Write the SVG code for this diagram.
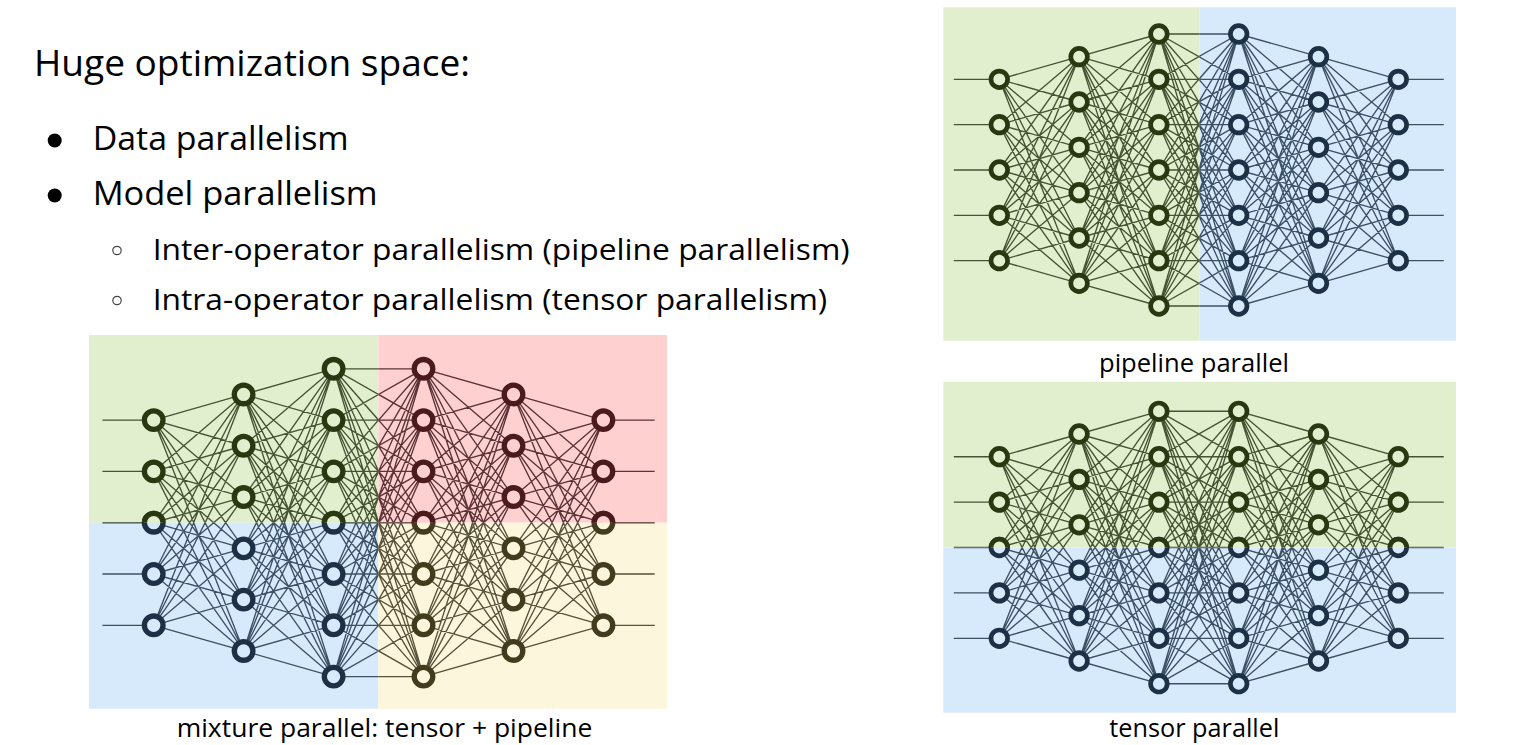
<svg xmlns="http://www.w3.org/2000/svg" xmlns:xlink="http://www.w3.org/1999/xlink" width="1525" height="745" viewBox="0 0 1525 745">
<style>
text{font-family:"Open Sans","Liberation Sans",sans-serif;fill:#000}
.t1{font-size:36px}
.t2{font-size:33px}
.t3{font-size:30px}
.lb{font-size:26px}
.s{stroke-width:4.7}
.m{stroke-width:5.3}
.ng{fill:#e2efcf;stroke:#2a3812}
.nb{fill:#d7eafb;stroke:#1c3145}
.nr{fill:#ffd0d0;stroke:#4b1a1d}
.ny{fill:#fcf6dc;stroke:#423b1d}
.cg{stroke:#3a4627}
.cb{stroke:#2f4457}
.cr{stroke:#4d2629}
.cy{stroke:#4a442e}
</style>
<defs>
<path id="net" fill="none" stroke-width="1.35" stroke-opacity="0.92" vector-effect="non-scaling-stroke" d="M0 -4L10 -5M0 -4L10 -3M0 -4L10 -1M0 -4L10 1M0 -4L10 3M0 -4L10 5M0 -2L10 -5M0 -2L10 -3M0 -2L10 -1M0 -2L10 1M0 -2L10 3M0 -2L10 5M0 0L10 -5M0 0L10 -3M0 0L10 -1M0 0L10 1M0 0L10 3M0 0L10 5M0 2L10 -5M0 2L10 -3M0 2L10 -1M0 2L10 1M0 2L10 3M0 2L10 5M0 4L10 -5M0 4L10 -3M0 4L10 -1M0 4L10 1M0 4L10 3M0 4L10 5
M10 -5L20 -6M10 -5L20 -4M10 -5L20 -2M10 -5L20 0M10 -5L20 2M10 -5L20 4M10 -5L20 6M10 -3L20 -6M10 -3L20 -4M10 -3L20 -2M10 -3L20 0M10 -3L20 2M10 -3L20 4M10 -3L20 6M10 -1L20 -6M10 -1L20 -4M10 -1L20 -2M10 -1L20 0M10 -1L20 2M10 -1L20 4M10 -1L20 6M10 1L20 -6M10 1L20 -4M10 1L20 -2M10 1L20 0M10 1L20 2M10 1L20 4M10 1L20 6M10 3L20 -6M10 3L20 -4M10 3L20 -2M10 3L20 0M10 3L20 2M10 3L20 4M10 3L20 6M10 5L20 -6M10 5L20 -4M10 5L20 -2M10 5L20 0M10 5L20 2M10 5L20 4M10 5L20 6
M20 -6L30 -6M20 -6L30 -4M20 -6L30 -2M20 -6L30 0M20 -6L30 2M20 -6L30 4M20 -6L30 6M20 -4L30 -6M20 -4L30 -4M20 -4L30 -2M20 -4L30 0M20 -4L30 2M20 -4L30 4M20 -4L30 6M20 -2L30 -6M20 -2L30 -4M20 -2L30 -2M20 -2L30 0M20 -2L30 2M20 -2L30 4M20 -2L30 6M20 0L30 -6M20 0L30 -4M20 0L30 -2M20 0L30 0M20 0L30 2M20 0L30 4M20 0L30 6M20 2L30 -6M20 2L30 -4M20 2L30 -2M20 2L30 0M20 2L30 2M20 2L30 4M20 2L30 6M20 4L30 -6M20 4L30 -4M20 4L30 -2M20 4L30 0M20 4L30 2M20 4L30 4M20 4L30 6M20 6L30 -6M20 6L30 -4M20 6L30 -2M20 6L30 0M20 6L30 2M20 6L30 4M20 6L30 6
M30 -6L40 -5M30 -6L40 -3M30 -6L40 -1M30 -6L40 1M30 -6L40 3M30 -6L40 5M30 -4L40 -5M30 -4L40 -3M30 -4L40 -1M30 -4L40 1M30 -4L40 3M30 -4L40 5M30 -2L40 -5M30 -2L40 -3M30 -2L40 -1M30 -2L40 1M30 -2L40 3M30 -2L40 5M30 0L40 -5M30 0L40 -3M30 0L40 -1M30 0L40 1M30 0L40 3M30 0L40 5M30 2L40 -5M30 2L40 -3M30 2L40 -1M30 2L40 1M30 2L40 3M30 2L40 5M30 4L40 -5M30 4L40 -3M30 4L40 -1M30 4L40 1M30 4L40 3M30 4L40 5M30 6L40 -5M30 6L40 -3M30 6L40 -1M30 6L40 1M30 6L40 3M30 6L40 5
M40 -5L50 -4M40 -5L50 -2M40 -5L50 0M40 -5L50 2M40 -5L50 4M40 -3L50 -4M40 -3L50 -2M40 -3L50 0M40 -3L50 2M40 -3L50 4M40 -1L50 -4M40 -1L50 -2M40 -1L50 0M40 -1L50 2M40 -1L50 4M40 1L50 -4M40 1L50 -2M40 1L50 0M40 1L50 2M40 1L50 4M40 3L50 -4M40 3L50 -2M40 3L50 0M40 3L50 2M40 3L50 4M40 5L50 -4M40 5L50 -2M40 5L50 0M40 5L50 2M40 5L50 4
M-5.7 -4L0 -4M-5.7 -2L0 -2M-5.7 0L0 0M-5.7 2L0 2M-5.7 4L0 4M50 -4L55.7 -4M50 -2L55.7 -2M50 0L55.7 0M50 2L55.7 2M50 4L55.7 4"/>
<clipPath id="cPG"><rect x="900" y="0" width="299.3" height="360"/></clipPath>
<clipPath id="cPB"><rect x="1199.3" y="0" width="326" height="360"/></clipPath>
<clipPath id="cTG"><rect x="900" y="370" width="625" height="177.5"/></clipPath>
<clipPath id="cTB"><rect x="900" y="547.5" width="625" height="200"/></clipPath>
<clipPath id="cMG"><rect x="0" y="320" width="378.3" height="202.7"/></clipPath>
<clipPath id="cMR"><rect x="378.3" y="320" width="400" height="202.7"/></clipPath>
<clipPath id="cMB"><rect x="0" y="522.7" width="378.3" height="222.3"/></clipPath>
<clipPath id="cMY"><rect x="378.3" y="522.7" width="400" height="222.3"/></clipPath>
</defs>

<g id="text-block">
<text class="t1" x="34" y="76" textLength="436" lengthAdjust="spacingAndGlyphs">Huge optimization space:</text>
<circle cx="54.7" cy="140.5" r="7" fill="#000"/>
<text class="t2" x="92.7" y="150" textLength="256" lengthAdjust="spacingAndGlyphs">Data parallelism</text>
<circle cx="54.7" cy="195.5" r="7" fill="#000"/>
<text class="t2" x="92.7" y="205" textLength="285" lengthAdjust="spacingAndGlyphs">Model parallelism</text>
<circle cx="117" cy="250.5" r="4.2" fill="none" stroke="#444" stroke-width="1.2"/>
<text class="t3" x="152.7" y="259.5" textLength="697" lengthAdjust="spacingAndGlyphs">Inter-operator parallelism (pipeline parallelism)</text>
<circle cx="117" cy="300.5" r="4.2" fill="none" stroke="#444" stroke-width="1.2"/>
<text class="t3" x="152.7" y="309.5" textLength="674.5" lengthAdjust="spacingAndGlyphs">Intra-operator parallelism (tensor parallelism)</text>
</g>

<g id="backgrounds">
<rect x="943.3" y="7.3" width="256" height="333.4" fill="#e2efcf"/>
<rect x="1199.3" y="7.3" width="256.7" height="333.4" fill="#d7eafb"/>
<rect x="943.3" y="381.7" width="512.7" height="165.8" fill="#e2efcf"/>
<rect x="943.3" y="547.5" width="512.7" height="165.2" fill="#d7eafb"/>
<rect x="89" y="335" width="289.3" height="187.7" fill="#e2efcf"/>
<rect x="378.3" y="335" width="288.7" height="187.7" fill="#ffd0d0"/>
<rect x="89" y="522.7" width="289.3" height="186" fill="#d7eafb"/>
<rect x="378.3" y="522.7" width="288.7" height="186" fill="#fcf6dc"/>
</g>

<g id="connectors">
<g id="p-connectors">
<g clip-path="url(#cPG)" class="cg"><use href="#net" xlink:href="#net" transform="translate(999.3 170) scale(7.98 22.667)"/></g>
<g clip-path="url(#cPB)" class="cb"><use href="#net" xlink:href="#net" transform="translate(999.3 170) scale(7.98 22.667)"/></g>
</g>
<g id="t-connectors">
<g clip-path="url(#cTG)" class="cg"><use href="#net" xlink:href="#net" transform="translate(999.3 547.5) scale(7.98 22.7)"/></g>
<g clip-path="url(#cTB)" class="cb"><use href="#net" xlink:href="#net" transform="translate(999.3 547.5) scale(7.98 22.7)"/></g>
</g>
<g id="m-connectors">
<g clip-path="url(#cMG)" class="cg"><use href="#net" xlink:href="#net" transform="translate(153.7 522.7) scale(8.994 25.65)"/></g>
<g clip-path="url(#cMR)" class="cr"><use href="#net" xlink:href="#net" transform="translate(153.7 522.7) scale(8.994 25.65)"/></g>
<g clip-path="url(#cMB)" class="cb"><use href="#net" xlink:href="#net" transform="translate(153.7 522.7) scale(8.994 25.65)"/></g>
<g clip-path="url(#cMY)" class="cy"><use href="#net" xlink:href="#net" transform="translate(153.7 522.7) scale(8.994 25.65)"/></g>
</g>
</g>

<g id="pipeline-nodes">
<g id="p0-0"><circle class="ng s" cx="999.3" cy="79.33" r="8.3"/></g>
<g id="p0-1"><circle class="ng s" cx="999.3" cy="124.67" r="8.3"/></g>
<g id="p0-2"><circle class="ng s" cx="999.3" cy="170" r="8.3"/></g>
<g id="p0-3"><circle class="ng s" cx="999.3" cy="215.33" r="8.3"/></g>
<g id="p0-4"><circle class="ng s" cx="999.3" cy="260.67" r="8.3"/></g>
<g id="p1-0"><circle class="ng s" cx="1079.1" cy="56.67" r="8.3"/></g>
<g id="p1-1"><circle class="ng s" cx="1079.1" cy="102" r="8.3"/></g>
<g id="p1-2"><circle class="ng s" cx="1079.1" cy="147.33" r="8.3"/></g>
<g id="p1-3"><circle class="ng s" cx="1079.1" cy="192.67" r="8.3"/></g>
<g id="p1-4"><circle class="ng s" cx="1079.1" cy="238" r="8.3"/></g>
<g id="p1-5"><circle class="ng s" cx="1079.1" cy="283.33" r="8.3"/></g>
<g id="p2-0"><circle class="ng s" cx="1158.9" cy="34" r="8.3"/></g>
<g id="p2-1"><circle class="ng s" cx="1158.9" cy="79.33" r="8.3"/></g>
<g id="p2-2"><circle class="ng s" cx="1158.9" cy="124.67" r="8.3"/></g>
<g id="p2-3"><circle class="ng s" cx="1158.9" cy="170" r="8.3"/></g>
<g id="p2-4"><circle class="ng s" cx="1158.9" cy="215.33" r="8.3"/></g>
<g id="p2-5"><circle class="ng s" cx="1158.9" cy="260.67" r="8.3"/></g>
<g id="p2-6"><circle class="ng s" cx="1158.9" cy="306" r="8.3"/></g>
<g id="p3-0"><circle class="nb s" cx="1238.7" cy="34" r="8.3"/></g>
<g id="p3-1"><circle class="nb s" cx="1238.7" cy="79.33" r="8.3"/></g>
<g id="p3-2"><circle class="nb s" cx="1238.7" cy="124.67" r="8.3"/></g>
<g id="p3-3"><circle class="nb s" cx="1238.7" cy="170" r="8.3"/></g>
<g id="p3-4"><circle class="nb s" cx="1238.7" cy="215.33" r="8.3"/></g>
<g id="p3-5"><circle class="nb s" cx="1238.7" cy="260.67" r="8.3"/></g>
<g id="p3-6"><circle class="nb s" cx="1238.7" cy="306" r="8.3"/></g>
<g id="p4-0"><circle class="nb s" cx="1318.5" cy="56.67" r="8.3"/></g>
<g id="p4-1"><circle class="nb s" cx="1318.5" cy="102" r="8.3"/></g>
<g id="p4-2"><circle class="nb s" cx="1318.5" cy="147.33" r="8.3"/></g>
<g id="p4-3"><circle class="nb s" cx="1318.5" cy="192.67" r="8.3"/></g>
<g id="p4-4"><circle class="nb s" cx="1318.5" cy="238" r="8.3"/></g>
<g id="p4-5"><circle class="nb s" cx="1318.5" cy="283.33" r="8.3"/></g>
<g id="p5-0"><circle class="nb s" cx="1398.3" cy="79.33" r="8.3"/></g>
<g id="p5-1"><circle class="nb s" cx="1398.3" cy="124.67" r="8.3"/></g>
<g id="p5-2"><circle class="nb s" cx="1398.3" cy="170" r="8.3"/></g>
<g id="p5-3"><circle class="nb s" cx="1398.3" cy="215.33" r="8.3"/></g>
<g id="p5-4"><circle class="nb s" cx="1398.3" cy="260.67" r="8.3"/></g>
</g>

<g id="tensor-nodes">
<g id="t0-0"><circle class="ng s" cx="999.3" cy="456.7" r="8.3"/></g>
<g id="t0-1"><circle class="ng s" cx="999.3" cy="502.1" r="8.3"/></g>
<g id="t0-2"><circle class="nb s" cx="999.3" cy="547.5" r="8.3"/><circle class="ng s" cx="999.3" cy="547.5" r="8.3" clip-path="url(#cTG)"/></g>
<g id="t0-3"><circle class="nb s" cx="999.3" cy="592.9" r="8.3"/></g>
<g id="t0-4"><circle class="nb s" cx="999.3" cy="638.3" r="8.3"/></g>
<g id="t1-0"><circle class="ng s" cx="1079.1" cy="434" r="8.3"/></g>
<g id="t1-1"><circle class="ng s" cx="1079.1" cy="479.4" r="8.3"/></g>
<g id="t1-2"><circle class="ng s" cx="1079.1" cy="524.8" r="8.3"/></g>
<g id="t1-3"><circle class="nb s" cx="1079.1" cy="570.2" r="8.3"/></g>
<g id="t1-4"><circle class="nb s" cx="1079.1" cy="615.6" r="8.3"/></g>
<g id="t1-5"><circle class="nb s" cx="1079.1" cy="661" r="8.3"/></g>
<g id="t2-0"><circle class="ng s" cx="1158.9" cy="411.3" r="8.3"/></g>
<g id="t2-1"><circle class="ng s" cx="1158.9" cy="456.7" r="8.3"/></g>
<g id="t2-2"><circle class="ng s" cx="1158.9" cy="502.1" r="8.3"/></g>
<g id="t2-3"><circle class="nb s" cx="1158.9" cy="547.5" r="8.3"/><circle class="ng s" cx="1158.9" cy="547.5" r="8.3" clip-path="url(#cTG)"/></g>
<g id="t2-4"><circle class="nb s" cx="1158.9" cy="592.9" r="8.3"/></g>
<g id="t2-5"><circle class="nb s" cx="1158.9" cy="638.3" r="8.3"/></g>
<g id="t2-6"><circle class="nb s" cx="1158.9" cy="683.7" r="8.3"/></g>
<g id="t3-0"><circle class="ng s" cx="1238.7" cy="411.3" r="8.3"/></g>
<g id="t3-1"><circle class="ng s" cx="1238.7" cy="456.7" r="8.3"/></g>
<g id="t3-2"><circle class="ng s" cx="1238.7" cy="502.1" r="8.3"/></g>
<g id="t3-3"><circle class="nb s" cx="1238.7" cy="547.5" r="8.3"/><circle class="ng s" cx="1238.7" cy="547.5" r="8.3" clip-path="url(#cTG)"/></g>
<g id="t3-4"><circle class="nb s" cx="1238.7" cy="592.9" r="8.3"/></g>
<g id="t3-5"><circle class="nb s" cx="1238.7" cy="638.3" r="8.3"/></g>
<g id="t3-6"><circle class="nb s" cx="1238.7" cy="683.7" r="8.3"/></g>
<g id="t4-0"><circle class="ng s" cx="1318.5" cy="434" r="8.3"/></g>
<g id="t4-1"><circle class="ng s" cx="1318.5" cy="479.4" r="8.3"/></g>
<g id="t4-2"><circle class="ng s" cx="1318.5" cy="524.8" r="8.3"/></g>
<g id="t4-3"><circle class="nb s" cx="1318.5" cy="570.2" r="8.3"/></g>
<g id="t4-4"><circle class="nb s" cx="1318.5" cy="615.6" r="8.3"/></g>
<g id="t4-5"><circle class="nb s" cx="1318.5" cy="661" r="8.3"/></g>
<g id="t5-0"><circle class="ng s" cx="1398.3" cy="456.7" r="8.3"/></g>
<g id="t5-1"><circle class="ng s" cx="1398.3" cy="502.1" r="8.3"/></g>
<g id="t5-2"><circle class="nb s" cx="1398.3" cy="547.5" r="8.3"/><circle class="ng s" cx="1398.3" cy="547.5" r="8.3" clip-path="url(#cTG)"/></g>
<g id="t5-3"><circle class="nb s" cx="1398.3" cy="592.9" r="8.3"/></g>
<g id="t5-4"><circle class="nb s" cx="1398.3" cy="638.3" r="8.3"/></g>
</g>

<g id="mixture-nodes">
<g id="m0-0"><circle class="ng m" cx="153.7" cy="420.1" r="9.3"/></g>
<g id="m0-1"><circle class="ng m" cx="153.7" cy="471.4" r="9.3"/></g>
<g id="m0-2"><circle class="nb m" cx="153.7" cy="522.7" r="9.3"/><circle class="ng m" cx="153.7" cy="522.7" r="9.3" clip-path="url(#cMG)"/></g>
<g id="m0-3"><circle class="nb m" cx="153.7" cy="574" r="9.3"/></g>
<g id="m0-4"><circle class="nb m" cx="153.7" cy="625.3" r="9.3"/></g>
<g id="m1-0"><circle class="ng m" cx="243.6" cy="394.45" r="9.3"/></g>
<g id="m1-1"><circle class="ng m" cx="243.6" cy="445.75" r="9.3"/></g>
<g id="m1-2"><circle class="ng m" cx="243.6" cy="497.05" r="9.3"/></g>
<g id="m1-3"><circle class="nb m" cx="243.6" cy="548.35" r="9.3"/></g>
<g id="m1-4"><circle class="nb m" cx="243.6" cy="599.65" r="9.3"/></g>
<g id="m1-5"><circle class="nb m" cx="243.6" cy="650.95" r="9.3"/></g>
<g id="m2-0"><circle class="ng m" cx="333.6" cy="368.8" r="9.3"/></g>
<g id="m2-1"><circle class="ng m" cx="333.6" cy="420.1" r="9.3"/></g>
<g id="m2-2"><circle class="ng m" cx="333.6" cy="471.4" r="9.3"/></g>
<g id="m2-3"><circle class="nb m" cx="333.6" cy="522.7" r="9.3"/><circle class="ng m" cx="333.6" cy="522.7" r="9.3" clip-path="url(#cMG)"/></g>
<g id="m2-4"><circle class="nb m" cx="333.6" cy="574" r="9.3"/></g>
<g id="m2-5"><circle class="nb m" cx="333.6" cy="625.3" r="9.3"/></g>
<g id="m2-6"><circle class="nb m" cx="333.6" cy="676.6" r="9.3"/></g>
<g id="m3-0"><circle class="nr m" cx="423.5" cy="368.8" r="9.3"/></g>
<g id="m3-1"><circle class="nr m" cx="423.5" cy="420.1" r="9.3"/></g>
<g id="m3-2"><circle class="nr m" cx="423.5" cy="471.4" r="9.3"/></g>
<g id="m3-3"><circle class="ny m" cx="423.5" cy="522.7" r="9.3"/><circle class="nr m" cx="423.5" cy="522.7" r="9.3" clip-path="url(#cMR)"/></g>
<g id="m3-4"><circle class="ny m" cx="423.5" cy="574" r="9.3"/></g>
<g id="m3-5"><circle class="ny m" cx="423.5" cy="625.3" r="9.3"/></g>
<g id="m3-6"><circle class="ny m" cx="423.5" cy="676.6" r="9.3"/></g>
<g id="m4-0"><circle class="nr m" cx="513.5" cy="394.45" r="9.3"/></g>
<g id="m4-1"><circle class="nr m" cx="513.5" cy="445.75" r="9.3"/></g>
<g id="m4-2"><circle class="nr m" cx="513.5" cy="497.05" r="9.3"/></g>
<g id="m4-3"><circle class="ny m" cx="513.5" cy="548.35" r="9.3"/></g>
<g id="m4-4"><circle class="ny m" cx="513.5" cy="599.65" r="9.3"/></g>
<g id="m4-5"><circle class="ny m" cx="513.5" cy="650.95" r="9.3"/></g>
<g id="m5-0"><circle class="nr m" cx="603.4" cy="420.1" r="9.3"/></g>
<g id="m5-1"><circle class="nr m" cx="603.4" cy="471.4" r="9.3"/></g>
<g id="m5-2"><circle class="ny m" cx="603.4" cy="522.7" r="9.3"/><circle class="nr m" cx="603.4" cy="522.7" r="9.3" clip-path="url(#cMR)"/></g>
<g id="m5-3"><circle class="ny m" cx="603.4" cy="574" r="9.3"/></g>
<g id="m5-4"><circle class="ny m" cx="603.4" cy="625.3" r="9.3"/></g>
</g>

<g id="captions">
<text class="lb" x="1099" y="372" textLength="190" lengthAdjust="spacingAndGlyphs">pipeline parallel</text>
<text class="lb" x="1109.3" y="737" textLength="170" lengthAdjust="spacingAndGlyphs">tensor parallel</text>
<text class="lb" x="176.7" y="736.5" textLength="415.6" lengthAdjust="spacingAndGlyphs">mixture parallel: tensor + pipeline</text>
</g>
</svg>
